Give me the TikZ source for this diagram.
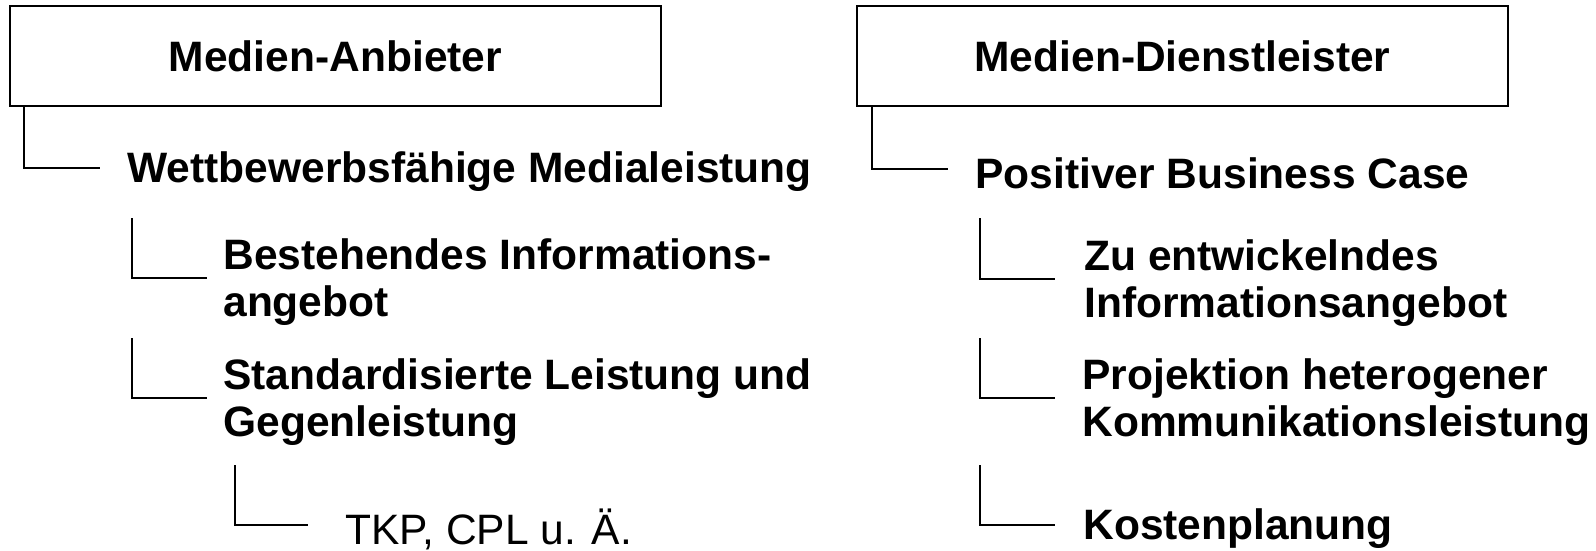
\documentclass[tikz,border=0pt]{standalone}
\usepackage{fontspec}
\setmainfont{Liberation Sans}
\usepackage{tikz}
\newcommand{\bigtext}{\fontsize{24.2}{27}\selectfont}

\begin{document}
\begin{tikzpicture}[x=0.2mm,y=-0.2mm,
    box/.style={draw, line width=1.2pt, minimum width=130.2mm, minimum height=20mm, inner sep=0pt, font=\bigtext\bfseries},
    item/.style={anchor=west, inner sep=0pt, align=left, font=\bigtext\bfseries},
    link/.style={line width=1.6pt}]
          \useasboundingbox (0,0) rectangle (1596,550);
          % left column: media provider
          \node[box] (anb) at (335.5,56) {Medien-Anbieter};
          \node[item] (wett) at (127,172) {Wettbewerbsf\"ahige Medialeistung};
          \node[item] (best) at (223,282) {Bestehendes Informations-\\angebot};
          \node[item] (std) at (223,402) {Standardisierte Leistung und\\Gegenleistung};
          \node[item, font=\bigtext] (tkp) at (345,529) {TKP, CPL u. \"A.};
          % right column: media service provider
          \node[box] (dl) at (1182.5,56) {Medien-Dienstleister};
          \node[item] (pos) at (975,173) {Positiver Business Case};
          \node[item] (zu) at (1084,283) {Zu entwickelndes\\Informationsangebot};
          \node[item] (proj) at (1082,402) {Projektion heterogener\\Kommunikationsleistung};
          \node[item] (kost) at (1083,529) {Kostenplanung};
          % tops of the sub-level brackets
          \coordinate (l1) at (132,218);
          \coordinate (l2) at (132,338);
          \coordinate (l3) at (235,465);
          \coordinate (r1) at (980,218);
          \coordinate (r2) at (980,338);
          \coordinate (r3) at (980,465);
          % brackets, left (ending at the middle of the capitals)
          \draw[link, shorten >=5.4mm] ([xshift=3mm]anb.south west) |- ([yshift=0.8mm]wett.west);
          \draw[link, shorten >=3.2mm] (l1) |- ([yshift=0.8mm]best.west);
          \draw[link, shorten >=3.2mm] (l2) |- ([yshift=0.8mm]std.west);
          \draw[link, shorten >=7.4mm] (l3) |- ([yshift=0.8mm]tkp.west);
          % brackets, right
          \draw[link, shorten >=5.4mm] ([xshift=3.2mm]dl.south west) |- ([yshift=0.8mm]pos.west);
          \draw[link, shorten >=5.8mm] (r1) |- ([yshift=0.8mm]zu.west);
          \draw[link, shorten >=5.4mm] (r2) |- ([yshift=0.8mm]proj.west);
          \draw[link, shorten >=5.6mm] (r3) |- ([yshift=0.8mm]kost.west);
        \end{tikzpicture}
\end{document}
